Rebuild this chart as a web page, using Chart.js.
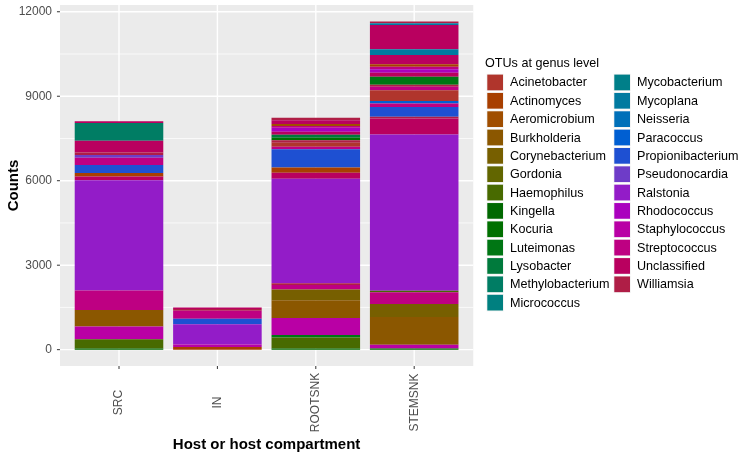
<!DOCTYPE html>
<html><head><meta charset="utf-8">
<script src="https://cdn.jsdelivr.net/npm/chart.js@4/dist/chart.umd.min.js"></script>
<style>html,body{margin:0;padding:0;background:#fff;}#wrap{width:743px;height:457px;position:relative;}</style>
</head><body><div id="wrap"><canvas id="c"></canvas></div>
<script>
const categories = ["SRC", "IN", "ROOTSNK", "STEMSNK"];
const genera = ["Acinetobacter","Actinomyces","Aeromicrobium","Burkholderia","Corynebacterium","Gordonia","Haemophilus","Kingella","Kocuria","Luteimonas","Lysobacter","Methylobacterium","Micrococcus","Mycobacterium","Mycoplana","Neisseria","Paracoccus","Propionibacterium","Pseudonocardia","Ralstonia","Rhodococcus","Staphylococcus","Streptococcus","Unclassified","Williamsia"];
const genusColors = ["#B0352C","#A83F00","#A04E00","#8B5700","#775F00","#626600","#486A00","#006800","#007000","#007614","#007A3C","#007D64","#008080","#007F89","#007AA0","#0070B9","#005FD2","#1E50D2","#6E3CC8","#931CC8","#AA00BE","#B900A5","#BE0082","#B9005F","#AF1E46"];
const yTicks = [0, 3000, 6000, 9000, 12000];
const yMinorTicks = [1500, 4500, 7500, 10500];

// OTU segments per sample, listed from the bottom of the stack upward
const srcGenus  = ["Kingella","Haemophilus","Staphylococcus","Burkholderia","Streptococcus","Ralstonia","Unclassified","Actinomyces","Propionibacterium","Streptococcus","Pseudonocardia","Williamsia","Unclassified","Methylobacterium","Unclassified"];
const srcCounts = [40, 330, 450, 590, 690, 3920, 130, 120, 285, 260, 95, 95, 415, 630, 60];

const inGenus  = ["Actinomyces","Staphylococcus","Ralstonia","Propionibacterium","Streptococcus","Williamsia","Unclassified"];
const inCounts = [95, 85, 720, 200, 280, 60, 60];

const rootGenus  = ["Kingella","Haemophilus","Luteimonas","Staphylococcus","Burkholderia","Corynebacterium","Streptococcus","Williamsia","Ralstonia","Unclassified","Actinomyces","Propionibacterium","Streptococcus","Acinetobacter","Williamsia","Kocuria","Lysobacter","Unclassified","Rhodococcus","Streptococcus","Aeromicrobium","Unclassified","Williamsia"];
const rootCounts = [45, 390, 85, 605, 630, 380, 165, 60, 3710, 215, 180, 650, 95, 140, 85, 95, 105, 105, 140, 60, 70, 140, 85];

const stemGenus  = ["Kingella","Staphylococcus","Burkholderia","Corynebacterium","Streptococcus","Haemophilus","Ralstonia","Unclassified","Williamsia","Propionibacterium","Streptococcus","Paracoccus","Acinetobacter","Streptococcus","Williamsia","Luteimonas","Unclassified","Rhodococcus","Streptococcus","Actinomyces","Unclassified","Mycoplana","Unclassified","Mycoplana","Williamsia"];
const stemCounts = [45, 130, 985, 460, 415, 60, 5545, 570, 60, 345, 130, 85, 380, 130, 70, 285, 140, 120, 95, 85, 330, 200, 865, 60, 60];

const legendGenera = ["Acinetobacter","Actinomyces","Aeromicrobium","Burkholderia","Corynebacterium","Gordonia","Haemophilus","Kingella","Kocuria","Luteimonas","Lysobacter","Methylobacterium","Micrococcus","Mycobacterium","Mycoplana","Neisseria","Paracoccus","Propionibacterium","Pseudonocardia","Ralstonia","Rhodococcus","Staphylococcus","Streptococcus","Unclassified","Williamsia"];

const colorOf = g => genusColors[genera.indexOf(g)];
const bars = [[srcGenus, srcCounts], [inGenus, inCounts], [rootGenus, rootCounts], [stemGenus, stemCounts]];
const nLayers = Math.max(...bars.map(b => b[1].length));
const datasets = [];
for (let k = 0; k < nLayers; k++) {
  datasets.push({
    label: 'OTU ' + (k + 1),
    data: bars.map(b => k < b[1].length ? b[1][k] : null),
    backgroundColor: bars.map(b => k < b[0].length ? colorOf(b[0][k]) : 'rgba(0,0,0,0)'),
    borderWidth: 0,
    categoryPercentage: 1,
    barPercentage: 0.9
  });
}

const FONT = '"Liberation Sans", Arial, sans-serif';

const panelPlugin = {
  id: 'panel',
  beforeDraw(chart) {
    const {ctx, chartArea: a, scales: {x, y}} = chart;
    const cw = (a.right - a.left) / categories.length;
    const L = a.left - 0.1 * cw, R = a.right + 0.1 * cw, T = a.top, B = a.bottom;
    const line = (x1, y1, x2, y2) => { ctx.beginPath(); ctx.moveTo(x1, y1); ctx.lineTo(x2, y2); ctx.stroke(); };
    ctx.save();
    ctx.fillStyle = '#EBEBEB';
    ctx.fillRect(L, T, R - L, B - T);
    ctx.strokeStyle = '#FFFFFF';
    ctx.lineWidth = 0.7;
    yMinorTicks.forEach(v => { const p = y.getPixelForValue(v); line(L, p, R, p); });
    ctx.lineWidth = 1.4;
    yTicks.forEach(v => { const p = y.getPixelForValue(v); line(L, p, R, p); });
    categories.forEach((c, i) => { const p = x.getPixelForValue(i); line(p, T, p, B); });
    ctx.strokeStyle = '#333333';
    ctx.lineWidth = 1;
    yTicks.forEach(v => { const p = y.getPixelForValue(v); line(L - 3, p, L, p); });
    categories.forEach((c, i) => { const p = x.getPixelForValue(i); line(p, B, p, B + 3); });
    ctx.restore();
  }
};

const labelPlugin = {
  id: 'genusLegend',
  afterDraw(chart) {
    const {ctx, scales: {x}} = chart;
    ctx.save();
    // x category labels, rotated and centred (ggplot style)
    ctx.fillStyle = '#4D4D4D';
    ctx.font = '12px ' + FONT;
    ctx.textAlign = 'center';
    ctx.textBaseline = 'middle';
    categories.forEach((c, i) => {
      const p = x.getPixelForValue(i);
      ctx.save();
      ctx.translate(p, 402.5);
      ctx.rotate(-Math.PI / 2);
      ctx.fillText(c, 0, 0);
      ctx.restore();
    });
    // legend
    ctx.fillStyle = '#000';
    ctx.textAlign = 'left';
    ctx.font = '12.6px ' + FONT;
    ctx.fillText('OTUs at genus level', 485, 64);
    legendGenera.forEach((g, i) => {
      const col = i < 13 ? 0 : 1;
      const row = i < 13 ? i : i - 13;
      const kx = col ? 614 : 487;
      const ky = 82.5 + row * 18.35;
      ctx.fillStyle = '#F2F2F2';
      ctx.fillRect(kx - 0.5, ky - 8.7, 17.3, 17.3);
      ctx.fillStyle = colorOf(g);
      ctx.fillRect(kx + 0.3, ky - 7.9, 15.7, 15.7);
      ctx.fillStyle = '#000';
      ctx.fillText(g, kx + 23, ky + 0.5);
    });
    ctx.restore();
  }
};

new Chart(document.getElementById('c'), {
  type: 'bar',
  data: { labels: categories, datasets },
  options: {
    responsive: true,
    maintainAspectRatio: false,
    animation: false,
    layout: { padding: { top: 5, right: 279.6, left: 0, bottom: 0 } },
    plugins: { legend: { display: false }, tooltip: { enabled: false } },
    scales: {
      x: {
        stacked: true,
        grid: { display: false, drawTicks: false, tickLength: 0 },
        border: { display: false },
        afterFit(s) { s.height = 91; s.paddingLeft = 0; s.paddingRight = 0; },
        ticks: { display: false, autoSkip: false },
        title: { display: true, text: 'Host or host compartment', color: '#000', font: { family: FONT, size: 15, weight: 'bold' }, padding: { top: 0, bottom: 3 } }
      },
      y: {
        stacked: true,
        min: -580,
        max: 12240,
        afterBuildTicks(s) { s.ticks = yTicks.map(v => ({ value: v })); },
        afterFit(s) { s.width = 69.8; s.paddingTop = 0; s.paddingBottom = 0; },
        grid: { display: false, drawTicks: false, tickLength: 0 },
        border: { display: false },
        ticks: { padding: 17.8, color: '#4D4D4D', font: { family: FONT, size: 12 }, callback: v => String(v) },
        title: { display: true, text: 'Counts', color: '#000', font: { family: FONT, size: 15, weight: 'bold' }, padding: { top: 5, bottom: 0 } }
      }
    }
  },
  plugins: [panelPlugin, labelPlugin]
});
</script>
</body></html>
